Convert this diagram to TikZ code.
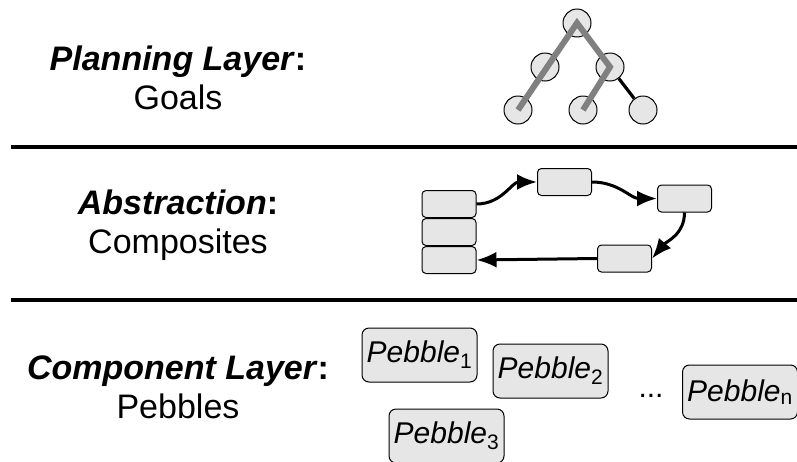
\documentclass[tikz,border=0pt]{standalone}
\usepackage{fontspec}
\setmainfont{Liberation Sans}
\usepackage{tikz}
\usetikzlibrary{arrows.meta,positioning}
\definecolor{layerFill}{HTML}{E6E6E6}
\definecolor{pathGray}{HTML}{808080}
\tikzset{
  layerLabel/.style={
    align=center,
    font=\fontsize{34}{39}\selectfont
  },
  goal/.style={
    circle,
    draw=black,
    fill=layerFill,
    line width=1pt,
    minimum size=28pt,
    inner sep=0pt
  },
  treeEdge/.style={
    line width=3.2pt,
    draw=black
  },
  planPath/.style={
    line width=6pt,
    draw=pathGray
  },
  composite/.style={
    rectangle,
    rounded corners=4pt,
    draw=black,
    fill=layerFill,
    line width=1pt,
    minimum width=54pt,
    minimum height=27pt,
    inner sep=0pt
  },
  flow/.style={
    -{Latex[length=20pt,width=16pt]},
    line width=3pt,
    draw=black
  },
  pebble/.style={
    rectangle,
    rounded corners=7pt,
    draw=black,
    fill=layerFill,
    line width=1pt,
    minimum width=115pt,
    minimum height=54pt,
    inner sep=2pt,
    font=\fontsize{30}{36}\selectfont
  },
  divider/.style={
    line width=4.5pt,
    draw=black
  }
}

\begin{document}
\begin{tikzpicture}[x=1pt,y=-1pt]
  \useasboundingbox (0,0) rectangle (797,461);
  % layer names
  \node[layerLabel] (planLabel) at (178,78) {\textbf{\textit{Planning Layer}:}\\Goals};
  \node[layerLabel] (abstrLabel) at (178,225) {\textbf{\textit{Abstraction}:}\\Composites};
  \node[layerLabel] (compLabel) at (178,387) {\textbf{\textit{Component Layer}:}\\Pebbles};
  \draw[divider] (11,147) -- (797,147);
  \draw[divider] (11,300) -- (797,300);

  % goal tree
  \node[goal] (root) at (577,23) {};
  \node[goal] (midl) at (545,67) {};
  \node[goal] (midr) at (610,67) {};
  \node[goal] (leafa) at (518,110) {};
  \node[goal] (leafb) at (583,110) {};
  \node[goal] (leafc) at (643,110) {};
  \draw[treeEdge] (root) -- (midl);
  \draw[treeEdge] (root) -- (midr);
  \draw[treeEdge] (midl) -- (leafa);
  \draw[treeEdge] (midr) -- (leafb);
  \draw[treeEdge] (midr) -- (leafc);
  \draw[planPath] (leafa.center) -- (root.center) -- (midr.center) -- (leafb.center);

  % composites
  \node[composite] (stackA) at (449,204) {};
  \node[composite,below=0pt of stackA] (stackB) {};
  \node[composite,below=0pt of stackB] (stackC) {};
  \node[composite] (cTop) at (564.5,182) {};
  \node[composite] (cRight) at (684.5,198.5) {};
  \node[composite] (cBottom) at (624.5,258.5) {};
  \draw[flow] (stackA.east) to[out=0,in=180] (cTop.west);
  \draw[flow] (cTop.east) to[out=0,in=180] (cRight.west);
  \draw[flow] (cRight.south) to[out=-90,in=50] (cBottom.east);
  \draw[flow] (cBottom.west) -- (stackC.east);

  % pebbles
  \node[pebble] (pebA) at (419.5,355) {\textit{Pebble}\textsubscript{1}};
  \node[pebble] (pebB) at (550.5,371) {\textit{Pebble}\textsubscript{2}};
  \node[pebble] (pebC) at (446.5,436) {\textit{Pebble}\textsubscript{3}};
  \node[pebble] (pebN) at (740,392) {\textit{Pebble}\textsubscript{n}};
  \node[font=\fontsize{30}{36}\selectfont,anchor=base] (dots) at (651,397) {...};
\end{tikzpicture}
\end{document}
